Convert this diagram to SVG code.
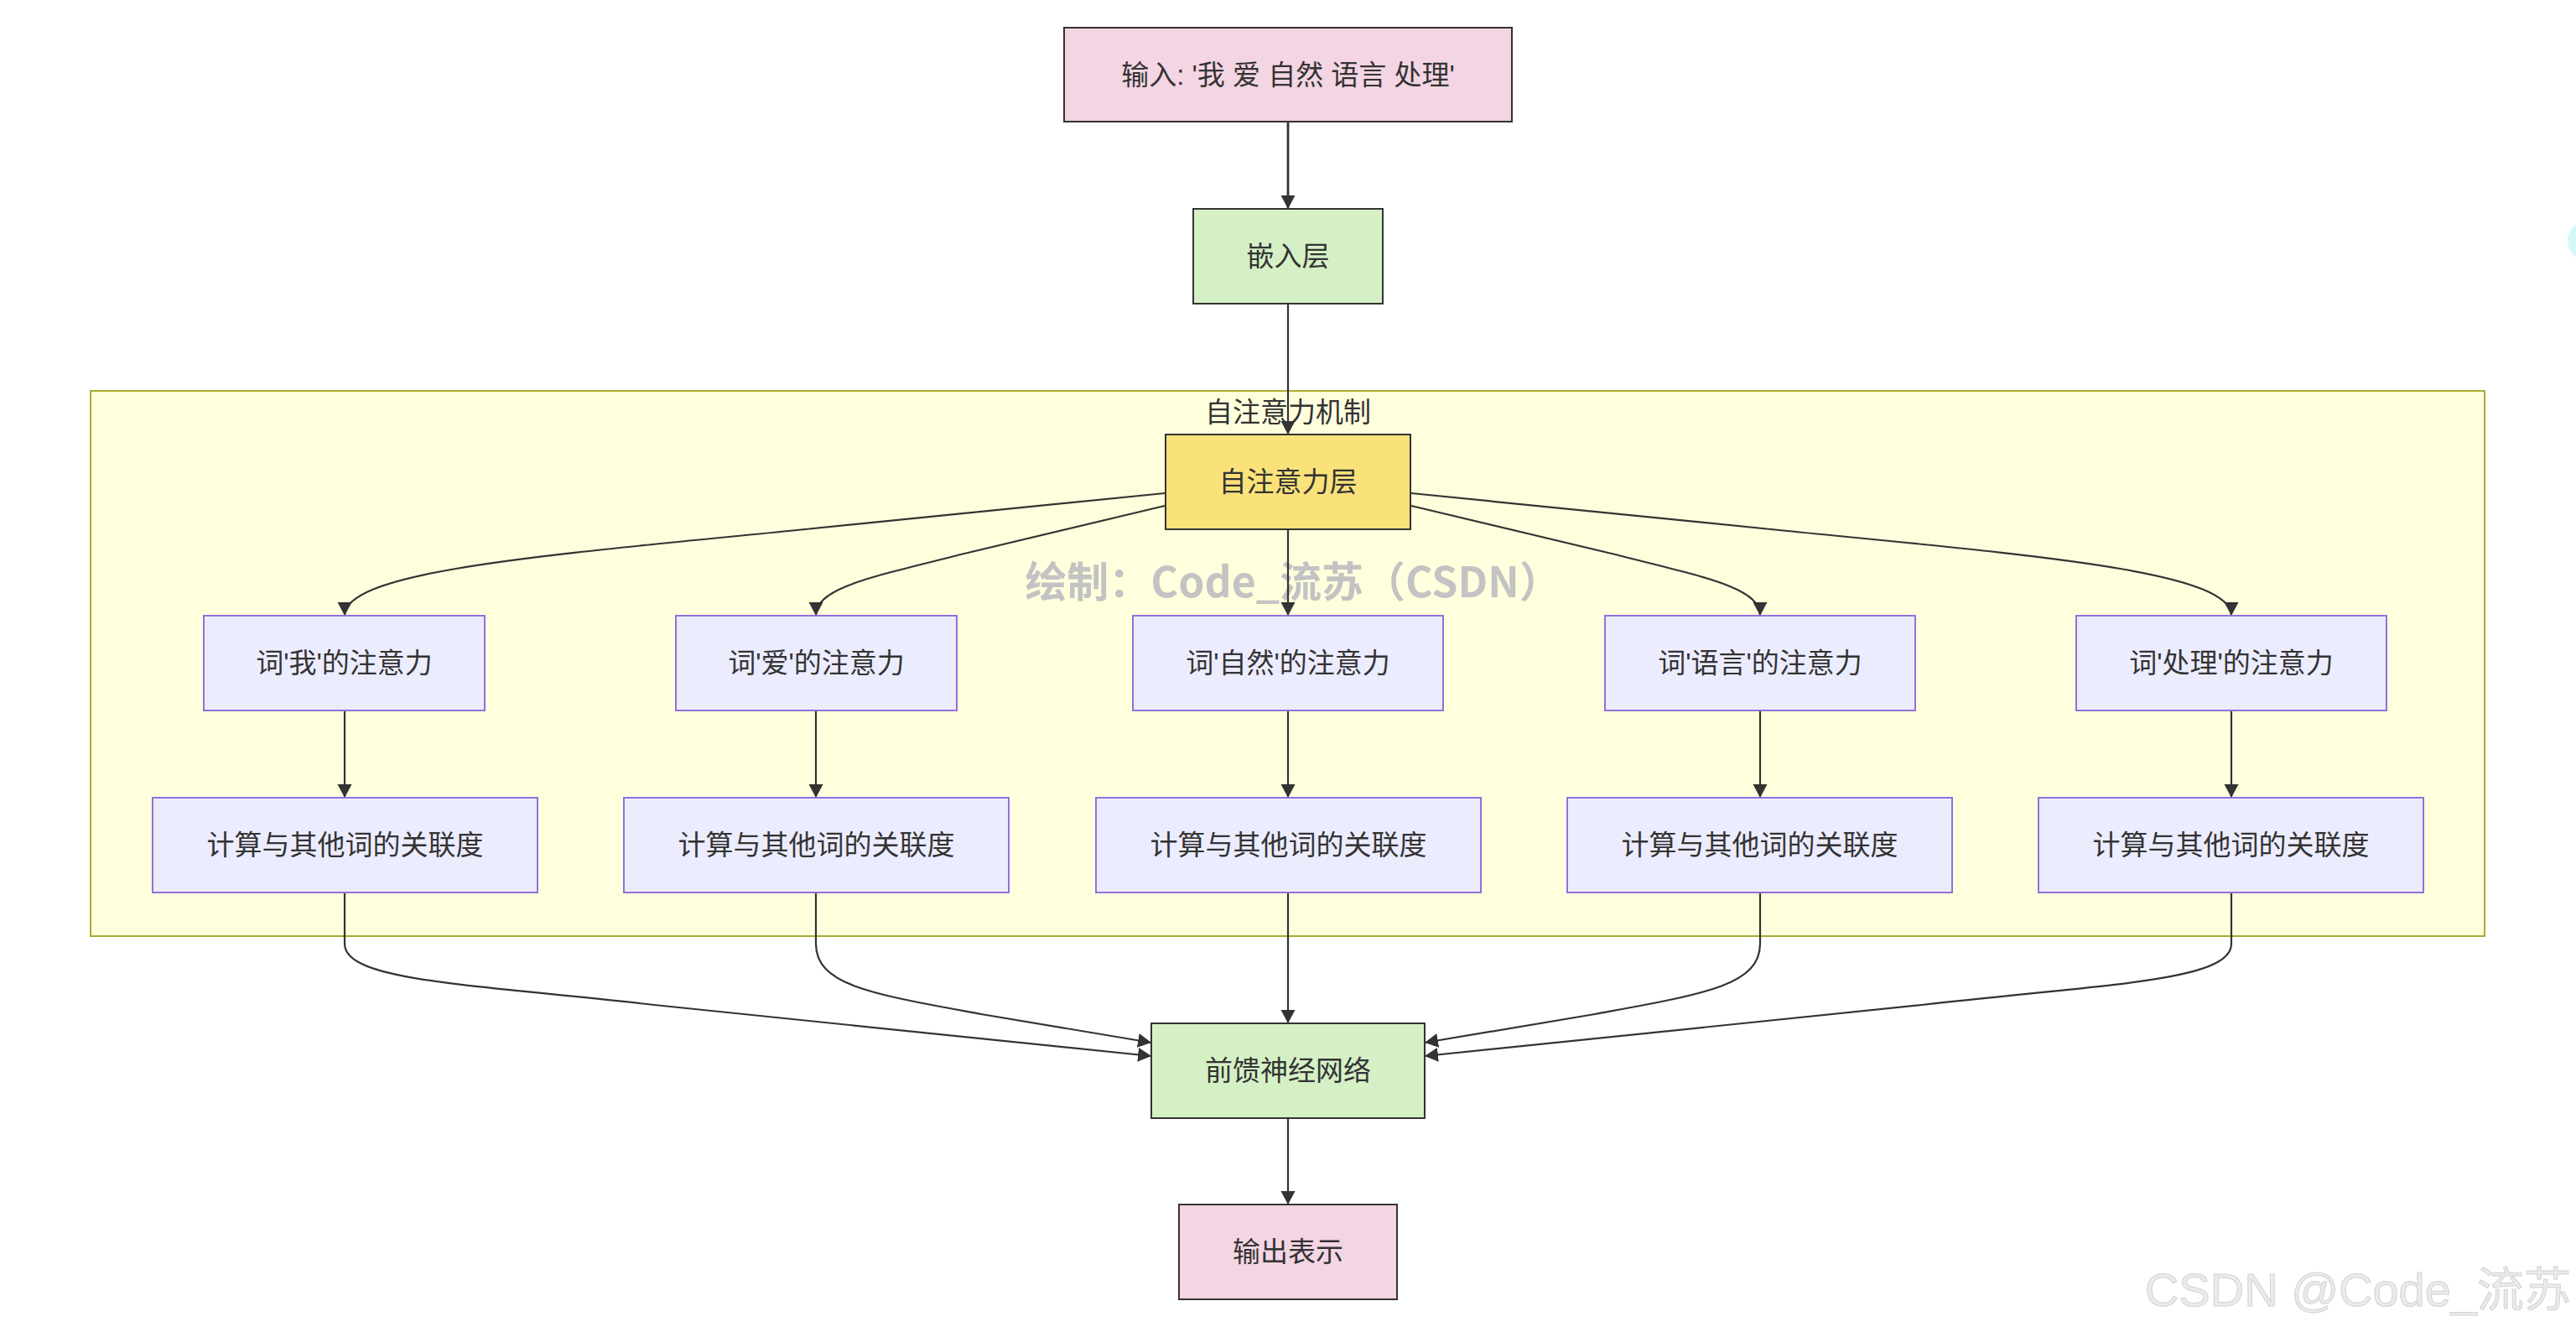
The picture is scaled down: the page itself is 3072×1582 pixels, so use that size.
<svg xmlns="http://www.w3.org/2000/svg" width="3072" height="1582" viewBox="0 0 3072 1582">
<defs>
<style>
.t{font-family:"Liberation Sans","Noto Sans CJK SC",sans-serif;font-size:33px;fill:#333;text-anchor:middle;dominant-baseline:central}
.pink{fill:#f3d5e3;stroke:#333;stroke-width:2}
.green{fill:#d6f0c6;stroke:#333;stroke-width:2}
.yellow{fill:#fae27a;stroke:#333;stroke-width:2}
.lav{fill:#ececff;stroke:#9370db;stroke-width:2}
.edge{fill:none;stroke:#333;stroke-width:2.2}
</style>
<marker id="arr" markerUnits="userSpaceOnUse" markerWidth="18" markerHeight="18" refX="16" refY="8.5" orient="auto">
<path d="M0,0 L16,8.5 L0,17 z" fill="#333"/>
</marker>
</defs>
<rect width="3072" height="1582" fill="#ffffff"/>

<g id="cluster-attn">
<rect x="108" y="466" width="2855" height="650" fill="#ffffde" stroke="#aaaa33" stroke-width="2"/>
<text class="t" x="1536" y="491">自注意力机制</text>
</g>

<text x="1542" y="712" font-family="'Noto Sans CJK SC',sans-serif" font-weight="bold" font-size="50" fill="#c3c3c3" text-anchor="middle">绘制：Code_流苏（CSDN）</text>

<g id="connectors">
<path class="edge" style="stroke-width:2.8" d="M1536,145 L1536,249" marker-end="url(#arr)"/>
<path class="edge" d="M1536,362 L1536,518" marker-end="url(#arr)"/>
<path class="edge" d="M1389,588 L950,632 C650,662 411,680 411,734" marker-end="url(#arr)"/>
<path class="edge" d="M1389,603 L1150,660 C1040,688 973,700 973,734" marker-end="url(#arr)"/>
<path class="edge" d="M1536,631 L1536,734" marker-end="url(#arr)"/>
<path class="edge" d="M1683,603 L1922,660 C2032,688 2099,700 2099,734" marker-end="url(#arr)"/>
<path class="edge" d="M1683,588 L2122,632 C2422,662 2661,680 2661,734" marker-end="url(#arr)"/>
<path class="edge" d="M411,847 L411,951" marker-end="url(#arr)"/>
<path class="edge" d="M973,847 L973,951" marker-end="url(#arr)"/>
<path class="edge" d="M1536,847 L1536,951" marker-end="url(#arr)"/>
<path class="edge" d="M2099,847 L2099,951" marker-end="url(#arr)"/>
<path class="edge" d="M2661,847 L2661,951" marker-end="url(#arr)"/>
<path class="edge" d="M411,1064 L411,1125 C411,1170 560,1173 780,1198 L1373,1259" marker-end="url(#arr)"/>
<path class="edge" d="M973,1064 L973,1125 C973,1175 1040,1185 1170,1209 L1373,1243" marker-end="url(#arr)"/>
<path class="edge" d="M1536,1064 L1536,1220" marker-end="url(#arr)"/>
<path class="edge" d="M2099,1064 L2099,1125 C2099,1175 2032,1185 1902,1209 L1699,1243" marker-end="url(#arr)"/>
<path class="edge" d="M2661,1064 L2661,1125 C2661,1170 2512,1173 2292,1198 L1699,1259" marker-end="url(#arr)"/>
<path class="edge" d="M1536,1333 L1536,1436" marker-end="url(#arr)"/>
</g>

<g id="input"><rect class="pink" x="1269" y="33" width="534" height="112"/><text class="t" x="1536" y="89">输入: '我 爱 自然 语言 处理'</text></g>
<g id="embed"><rect class="green" x="1423" y="249" width="226" height="113"/><text class="t" x="1536" y="305.5">嵌入层</text></g>
<g id="selfattn"><rect class="yellow" x="1390" y="518" width="292" height="113"/><text class="t" x="1536" y="574.5">自注意力层</text></g>

<g id="w1"><rect class="lav" x="243" y="734" width="335" height="113"/><text class="t" x="410.5" y="790.5">词'我'的注意力</text></g>
<g id="w2"><rect class="lav" x="806" y="734" width="335" height="113"/><text class="t" x="973.5" y="790.5">词'爱'的注意力</text></g>
<g id="w3"><rect class="lav" x="1351" y="734" width="370" height="113"/><text class="t" x="1536" y="790.5">词'自然'的注意力</text></g>
<g id="w4"><rect class="lav" x="1914" y="734" width="370" height="113"/><text class="t" x="2099" y="790.5">词'语言'的注意力</text></g>
<g id="w5"><rect class="lav" x="2476" y="734" width="370" height="113"/><text class="t" x="2661" y="790.5">词'处理'的注意力</text></g>

<g id="c1"><rect class="lav" x="182" y="951" width="459" height="113"/><text class="t" x="411.5" y="1007.5">计算与其他词的关联度</text></g>
<g id="c2"><rect class="lav" x="744" y="951" width="459" height="113"/><text class="t" x="973.5" y="1007.5">计算与其他词的关联度</text></g>
<g id="c3"><rect class="lav" x="1307" y="951" width="459" height="113"/><text class="t" x="1536.5" y="1007.5">计算与其他词的关联度</text></g>
<g id="c4"><rect class="lav" x="1869" y="951" width="459" height="113"/><text class="t" x="2098.5" y="1007.5">计算与其他词的关联度</text></g>
<g id="c5"><rect class="lav" x="2431" y="951" width="459" height="113"/><text class="t" x="2660.5" y="1007.5">计算与其他词的关联度</text></g>

<g id="ffn"><rect class="green" x="1373" y="1220" width="326" height="113"/><text class="t" x="1536" y="1276.5">前馈神经网络</text></g>
<g id="output"><rect class="pink" x="1406" y="1436" width="260" height="113"/><text class="t" x="1536" y="1492.5">输出表示</text></g>

<circle cx="3086" cy="287" r="24" fill="#d4f8f8"/>
<text x="3066" y="1557" font-family="'Liberation Sans','Noto Sans CJK SC',sans-serif" font-size="56" fill="#ebebeb" stroke="#d2d2d2" stroke-width="1" text-anchor="end">CSDN @Code_流苏</text>
</svg>
